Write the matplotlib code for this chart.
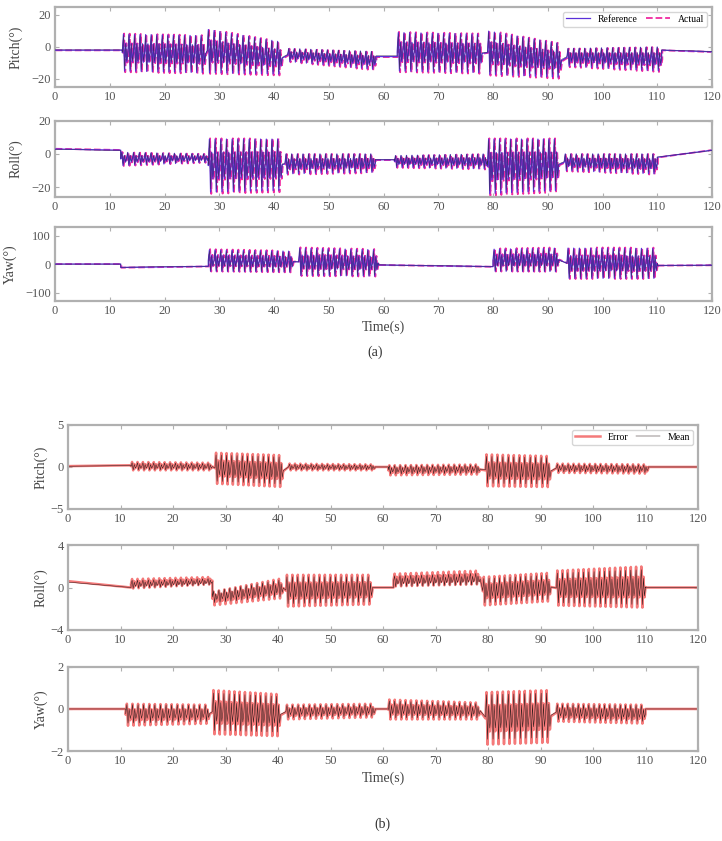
import numpy as np
import matplotlib
matplotlib.use("Agg")
import matplotlib.pyplot as plt

plt.rcParams['font.family'] = ['Liberation Serif', 'DejaVu Serif']

# ---------------- data ----------------
# each segment: (t_start, t_end, n_cycles, top_start, top_end, bottom_start, bottom_end)
pitch_a_segs = [(0, 12.3, 0, -2, -2, -2, -2),
                (12.3, 27.5, 15, 8, 7, -15, -16),
                (27.8, 41.5, 13, 11, 3, -16, -17),
                (42.5, 58.6, 16, -1, -3, -9, -14),
                (58.6, 62.5, 0, -6, -6, -6, -6),
                (62.5, 78.0, 15, 9, 8, -15, -16),
                (79.0, 92.5, 13, 10, 2, -17, -19),
                (93.5, 110.8, 17, -1, 0, -12, -15),
                (110.8, 120, 0, -2, -3, -2, -3)]
roll_a_segs = [(0, 12.0, 0, 3, 2.3, 3, 2.3),
               (12.0, 28.0, 15, 1, 0, -7, -5),
               (28.0, 41.5, 13, 9, 9, -23, -22),
               (42.0, 58.5, 16, 0, 0, -12, -11),
               (58.5, 62.0, 0, -3.5, -3.5, -3.5, -3.5),
               (62.0, 79.0, 17, -1, 0, -8, -9),
               (79.0, 92.0, 13, 9, 9, -24, -22),
               (93.0, 110.0, 17, 0, 0, -10, -12),
               (110.0, 120, 0, -2, 2.3, -2, 2.3)]
yaw_a_segs = [(0, 12.0, 0, 0, 0, 0, 0),
              (12.0, 28.0, 0, -12, -8, -12, -8),
              (28.0, 43.5, 15, 50, 45, -25, -28),
              (44.5, 59.0, 14, 56, 50, -40, -42),
              (59.0, 80.0, 0, -3, -9, -3, -9),
              (80.0, 92.0, 12, 52, 56, -25, -26),
              (93.5, 110.0, 16, 56, 55, -50, -50),
              (110.0, 120, 0, -5, -4, -5, -4)]

pitch_b_segs = [(0, 12.0, 0, 0.1, 0.2, 0.1, 0.2),
                (12.0, 27.5, 15, 0.6, 0.5, -0.4, -0.4),
                (28.0, 41.0, 13, 1.7, 1.4, -2.0, -2.4),
                (42.0, 58.5, 16, 0.4, 0.3, -0.4, -0.4),
                (58.5, 61.0, 0, 0, 0, 0, 0),
                (61.0, 78.5, 17, 0.2, 0.3, -1.0, -0.9),
                (79.5, 92.0, 12, 1.5, 1.3, -2.3, -2.4),
                (93.0, 110.5, 17, 0.4, 0.3, -0.7, -0.8),
                (110.5, 120, 0, 0, 0, 0, 0)]
roll_b_segs = [(0, 12.0, 0, 0.6, 0, 0.6, 0),
               (12.0, 27.5, 15, 0.8, 1.0, -0.1, 0.3),
               (27.5, 41.0, 13, -0.4, 0.9, -1.7, -1.0),
               (41.5, 58.0, 16, 1.2, 1.2, -1.8, -1.6),
               (58.0, 62.0, 0, 0, 0, 0, 0),
               (62.0, 78.5, 16, 1.3, 1.6, 0.1, 0.3),
               (79.0, 92.0, 13, 1.0, 1.4, -1.7, -1.3),
               (93.0, 110.0, 17, 1.6, 2.0, -1.7, -1.9),
               (110.0, 120, 0, 0, 0, 0, 0)]
yaw_b_segs = [(0, 11.0, 0, 0, 0, 0, 0),
              (11.0, 27.0, 15, 0.25, 0.2, -0.8, -0.7),
              (27.5, 40.5, 13, 0.9, 0.7, -1.2, -1.3),
              (41.5, 58.5, 16, 0.2, 0.25, -0.5, -0.4),
              (58.5, 61.0, 0, 0, 0, 0, 0),
              (61.0, 78.5, 17, 0.45, 0.3, -0.5, -0.5),
              (79.5, 92.0, 12, 0.8, 0.9, -1.7, -1.6),
              (93.0, 110.0, 17, 0.25, 0.2, -0.6, -0.7),
              (110.0, 120, 0, 0, 0, 0, 0)]

ylabels = ['Pitch(°)', 'Roll(°)', 'Yaw(°)']
xticks = list(range(0, 121, 10))
ylim_a = [(-25, 25), (-26, 20), (-130, 130)]
yticks_a = [[-20, 0, 20], [-20, 0, 20], [-100, 0, 100]]
ylim_b = [(-5, 5), (-4, 4), (-2, 2)]
yticks_b = [[-5, 0, 5], [-4, 0, 4], [-2, 0, 2]]
actual_lag = 0.12
# shape of one cycle: fractions between bottom (0) and top (1)
cycle_shape = [0.5, 1.0, 0.0, 0.75, 0.25]


def build(segs):
    ts, vs = [], []
    for (t0, t1, n, a0, a1, b0, b1) in segs:
        if n == 0:
            ts += [t0, t1]
            vs += [a0, a1]
            continue
        period = (t1 - t0) / n
        m = len(cycle_shape)
        for c in range(n):
            for j, fr in enumerate(cycle_shape):
                t = t0 + c * period + j * period / m
                f = (t - t0) / (t1 - t0)
                top = a0 + (a1 - a0) * f
                bot = b0 + (b1 - b0) * f
                ts.append(t)
                vs.append(bot + (top - bot) * fr)
        ts.append(t1)
        vs.append((a1 + b1) / 2)
    return np.array(ts), np.array(vs)


fig = plt.figure(figsize=(7.22, 8.41), dpi=100)

pos_a = [(0.0762, 0.8966, 0.910, 0.0951),
         (0.0762, 0.7658, 0.910, 0.0904),
         (0.0762, 0.6420, 0.910, 0.0880)]
pos_b = [(0.0942, 0.3948, 0.8726, 0.0999),
         (0.0942, 0.2509, 0.8726, 0.1010),
         (0.0942, 0.1070, 0.8726, 0.1000)]

frame_col = '#b0b0b0'
tick_col = '#555555'


def style(ax):
    for s in ax.spines.values():
        s.set_color(frame_col)
        s.set_linewidth(1.6)
    ax.tick_params(direction='in', top=True, right=True, length=3, width=0.8,
                   colors=frame_col, labelcolor=tick_col, labelsize=9, pad=3)
    ax.set_xlim(0, 120)
    ax.set_xticks(xticks)


for i, segs in enumerate([pitch_a_segs, roll_a_segs, yaw_a_segs]):
    ax = fig.add_axes(pos_a[i])
    t, v = build(segs)
    ax.plot(t + actual_lag, v * 1.05, color='#f02aa0', lw=1.3, ls='--', label='Actual', zorder=2)
    ax.plot(t, v, color='#5a30d8', lw=0.9, label='Reference', zorder=3)
    ax.plot(t, v * 0.92, color='#3a2a50', lw=0.3, zorder=4)
    style(ax)
    ax.set_ylim(*ylim_a[i])
    ax.set_yticks(yticks_a[i])
    ax.set_ylabel(ylabels[i], fontsize=10, color='#444444', labelpad=6)
    if i == 0:
        h, l = ax.get_legend_handles_labels()
        ax.legend(h[::-1], l[::-1], loc='upper right', ncol=2, fontsize=7, frameon=True,
                  edgecolor='#cccccc', handlelength=2.5, borderpad=0.3, columnspacing=0.8)
    if i == 2:
        ax.set_xlabel('Time(s)', fontsize=10, color='#444444', labelpad=2)

fig.text(0.52, 1 - 352 / 841, '(a)', ha='center', va='center', fontsize=10, color='#333333')

for i, segs in enumerate([pitch_b_segs, roll_b_segs, yaw_b_segs]):
    ax = fig.add_axes(pos_b[i])
    t, v = build(segs)
    ax.plot(t, v, color='#f47a7a', lw=1.8, label='Error')
    ax.plot(t, v * 0.85, color='#2a1a1a', lw=0.35, label='Mean')
    style(ax)
    ax.set_ylim(*ylim_b[i])
    ax.set_yticks(yticks_b[i])
    ax.set_ylabel(ylabels[i], fontsize=10, color='#444444', labelpad=2)
    if i == 0:
        ax.legend(loc='upper right', ncol=2, fontsize=7, frameon=True, edgecolor='#cccccc',
                  handlelength=2.5, borderpad=0.3, columnspacing=0.8)
    if i == 2:
        ax.set_xlabel('Time(s)', fontsize=10, color='#444444', labelpad=3)

fig.text(0.53, 1 - 824 / 841, '(b)', ha='center', va='center', fontsize=10, color='#333333')

fig.savefig('out.png', dpi=100)
